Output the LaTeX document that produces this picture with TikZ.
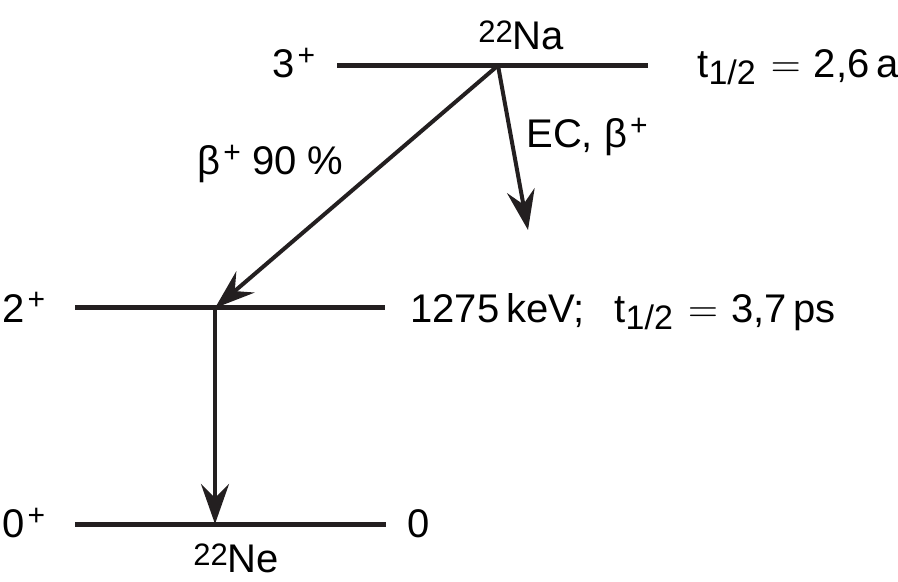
\documentclass[tikz,border=0pt]{standalone}
\usepackage{fontspec}
\setmainfont{Liberation Sans}
\usetikzlibrary{arrows.meta}
\definecolor{levelColor}{RGB}{35,31,32}
\tikzstyle{level}=[levelColor,line width=2.5pt]
\tikzstyle{decay}=[levelColor,line width=2pt,-{Stealth[length=20pt,width=14pt,inset=7pt]}]
\tikzstyle{levelLabel}=[inner sep=0pt,anchor=base west]
\newcommand{\halflife}{t\raisebox{-3.5pt}{\fontsize{17}{17}\selectfont 1/2}}
\newcommand{\massnum}[1]{\raisebox{3.5pt}{\fontsize{15.5}{15.5}\selectfont #1}}
\newcommand{\parity}[1]{\kern1.5pt\raisebox{6pt}{\fontsize{15}{15}\selectfont #1}}
\newcommand{\equalsign}{\kern2pt$=$\kern1pt}

\begin{document}
\begin{tikzpicture}[x=0.5pt,y=-0.5pt,font=\fontsize{20}{24}\selectfont]
\useasboundingbox (0,0) rectangle (898,582);
% level ends and feeding points
\coordinate (naLeft) at (337,65.5);
\coordinate (naRight) at (648,65.5);
\coordinate (naDecay) at (498,65.5);
\coordinate (ecTip) at (528,230);
\coordinate (neOneLeft) at (75,308);
\coordinate (neOneRight) at (385,308);
\coordinate (neOneFeed) at (215,308);
\coordinate (neZeroLeft) at (75,524);
\coordinate (neZeroRight) at (386,524);
\coordinate (neZeroFeed) at (215,524);
% levels
\draw[level] (naLeft) -- (naRight);
\draw[level] (neOneLeft) -- (neOneRight);
\draw[level] (neZeroLeft) -- (neZeroRight);
% transitions
\draw[decay] (naDecay) -- (neOneFeed);
\draw[decay] (naDecay) -- (ecTip);
\draw[decay] (neOneFeed) -- (neZeroFeed);
% labels
\node[levelLabel] (naSpin) at (272,78) {3\parity{+}};
\node[levelLabel] (naName) at (478,50) {\massnum{22}Na};
\node[levelLabel] (naHalf) at (697,78) {\halflife{} \equalsign{} 2,6\,a};
\node[levelLabel] (betaLabel) at (197,175) {β\parity{+} 90 \%};
\node[levelLabel] (ecLabel) at (526,148) {EC, β\parity{+}};
\node[levelLabel] (neOneSpin) at (2,322) {2\parity{+}};
\node[levelLabel] (neOneEnergy) at (410,322) {1275\,keV;\hspace{0.75em}\halflife{} \equalsign{} 3,7\,ps};
\node[levelLabel] (neZeroSpin) at (2,537) {0\parity{+}};
\node[levelLabel] (neZeroEnergy) at (407,537) {0};
\node[levelLabel] (neName) at (193,572) {\massnum{22}Ne};
\end{tikzpicture}
\end{document}
